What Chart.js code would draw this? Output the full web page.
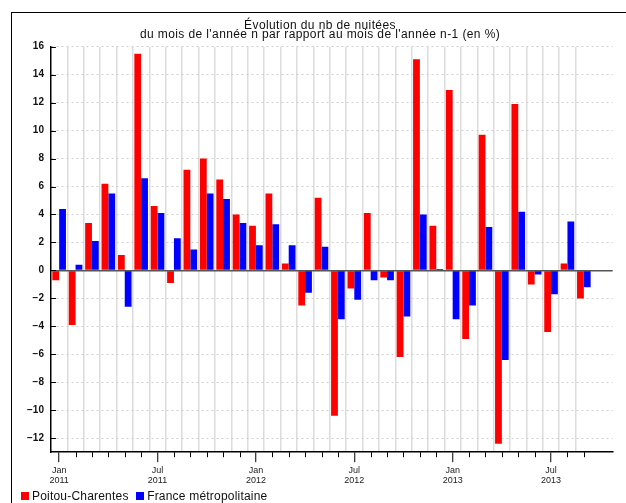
<!DOCTYPE html>
<html lang="fr">
<head>
<meta charset="utf-8">
<title>Évolution du nb de nuitées</title>
<script src="https://cdn.jsdelivr.net/npm/chart.js@4.4.1/dist/chart.umd.min.js"></script>
<style>
  html, body { margin: 0; padding: 0; background: #fff; overflow: hidden; }
  body { width: 626px; height: 503px; position: relative; font-family: "Liberation Sans", Arial, sans-serif; }
  #frame { position: absolute; left: 11px; top: 12px; width: 700px; height: 600px; border: 1.5px solid #000; box-sizing: border-box; }
  #chart { position: absolute; left: 0; top: 0; }
  .title { position: absolute; left: 0; width: 640px; text-align: center; font-size: 12px; color: #111; letter-spacing: 0.4px; white-space: nowrap; line-height: 12px; }
  .legend { position: absolute; top: 489px; left: 21px; font-size: 12px; color: #111; letter-spacing: 0.2px; white-space: nowrap; line-height: 14px; }
  .legend span.box { display: inline-block; width: 8px; height: 8px; margin-right: 3px; vertical-align: 0px; }
  .legend span.item { margin-right: 4px; }
</style>
</head>
<body>
<div id="frame"></div>
<canvas id="chart" width="626" height="503"></canvas>
<div class="title" style="top:19px">Évolution du nb de nuitées</div>
<div class="title" style="top:28px">du mois de l'année n par rapport au mois de l'année n-1 (en %)</div>
<div class="legend">
  <span class="item"><span class="box" style="background:#ff0000"></span>Poitou-Charentes</span>
  <span class="item"><span class="box" style="background:#0000ff"></span>France métropolitaine</span>
</div>
<script>
// Mois (janv. 2011 -> sept. 2013)
const months = [
    'Jan 2011', 'Feb 2011', 'Mar 2011', 'Apr 2011', 'May 2011', 'Jun 2011',
    'Jul 2011', 'Aug 2011', 'Sep 2011', 'Oct 2011', 'Nov 2011', 'Dec 2011',
    'Jan 2012', 'Feb 2012', 'Mar 2012', 'Apr 2012', 'May 2012', 'Jun 2012',
    'Jul 2012', 'Aug 2012', 'Sep 2012', 'Oct 2012', 'Nov 2012', 'Dec 2012',
    'Jan 2013', 'Feb 2013', 'Mar 2013', 'Apr 2013', 'May 2013', 'Jun 2013',
    'Jul 2013', 'Aug 2013', 'Sep 2013'
];
const labelledMonths = ['Jan', 'Jul'];

// Evolution en % par rapport au même mois de l'année précédente
const poitouCharentes = [
    -0.7, -3.9, 3.4, 6.2, 1.1, 15.5, 4.6, -0.9, 7.2, 8.0, 6.5, 4.0,
    3.2, 5.5, 0.5, -2.5, 5.2, -10.4, -1.3, 4.1, -0.5, -6.2, 15.1, 3.2,
    12.9, -4.9, 9.7, -12.4, 11.9, -1.0, -4.4, 0.5, -2.0
];
const franceMetro = [
    4.4, 0.4, 2.1, 5.5, -2.6, 6.6, 4.1, 2.3, 1.5, 5.5, 5.1, 3.4,
    1.8, 3.3, 1.8, -1.6, 1.7, -3.5, -2.1, -0.7, -0.7, -3.3, 4.0, 0.1,
    -3.5, -2.5, 3.1, -6.4, 4.2, -0.3, -1.7, 3.5, -1.2
];
const yTicks = [-12, -10, -8, -6, -4, -2, 0, 2, 4, 6, 8, 10, 12, 14, 16];

const isMajor = (v) => {
    if (!Number.isInteger(v) || !months[v]) return false;
    return labelledMonths.includes(months[v].split(' ')[0]);
};

// petites graduations (mois) + graduations intérieures de l'axe Y
const tickMarks = {
    id: 'tickMarks',
    afterDraw(chart) {
        const { ctx, chartArea, scales: { x, y } } = chart;
        ctx.save();
        ctx.strokeStyle = '#000';
        ctx.lineWidth = 1;
        ctx.beginPath();
        months.forEach((m, i) => {
            if (isMajor(i)) return;
            const px = Math.round(x.getPixelForValue(i)) + 0.5;
            ctx.moveTo(px, chartArea.bottom);
            ctx.lineTo(px, chartArea.bottom + 5);
        });
        yTicks.forEach(v => {
            const py = Math.round(y.getPixelForValue(v)) + 0.5;
            ctx.moveTo(chartArea.left, py);
            ctx.lineTo(chartArea.left + 5, py);
        });
        ctx.stroke();
        ctx.restore();
    }
};

const chart = new Chart(document.getElementById('chart'), {
    type: 'bar',
    data: {
        datasets: [
            {
                label: 'Poitou-Charentes',
                data: poitouCharentes.map((v, i) => ({ x: i, y: v })),
                backgroundColor: '#ff0000',
                borderWidth: 0
            },
            {
                label: 'France métropolitaine',
                data: franceMetro.map((v, i) => ({ x: i, y: v })),
                backgroundColor: '#0000ff',
                borderWidth: 0
            }
        ]
    },
    options: {
        responsive: false,
        animation: false,
        devicePixelRatio: 1,
        // les ticks tous les demi-mois divisent la largeur de référence par 2
        categoryPercentage: 1.66,
        barPercentage: 1,
        layout: { padding: { left: 20, right: 13.3, top: 46.7, bottom: 15 } },
        plugins: {
            legend: { display: false },
            tooltip: { enabled: false }
        },
        scales: {
            x: {
                type: 'linear',
                min: -0.5,
                max: 33.76,
                offset: false,
                afterBuildTicks: (scale) => {
                    const ticks = [];
                    months.forEach((m, i) => {
                        ticks.push({ value: i });
                        if (i < months.length - 1) ticks.push({ value: i + 0.5 });
                    });
                    scale.ticks = ticks;
                },
                grid: {
                    offset: false,
                    color: (ctx) => ctx.tick && !Number.isInteger(ctx.tick.value) ? '#dcdcdc' : 'rgba(0,0,0,0)',
                    lineWidth: 1.5,
                    tickColor: (ctx) => ctx.tick && isMajor(ctx.tick.value) ? '#000' : 'rgba(0,0,0,0)',
                    tickLength: 10,
                    tickWidth: 1
                },
                border: { color: '#000', width: 1.5 },
                ticks: {
                    autoSkip: false,
                    maxRotation: 0,
                    minRotation: 0,
                    padding: 3,
                    color: '#222',
                    font: { family: 'Liberation Sans, Arial, sans-serif', size: 9, lineHeight: 1.1 },
                    callback: (value) => {
                        if (!isMajor(value)) return '';
                        return months[value].split(' ');
                    }
                }
            },
            y: {
                min: -13,
                max: 16,
                afterBuildTicks: (scale) => {
                    scale.ticks = yTicks.map(v => ({ value: v }));
                },
                grid: {
                    drawTicks: false,
                    color: (ctx) => ctx.tick && ctx.tick.value === 0 ? '#555' : '#cfcfcf',
                    lineWidth: (ctx) => ctx.tick && ctx.tick.value === 0 ? 1.5 : 1
                },
                border: {
                    color: '#000',
                    width: 1.5,
                    dash: (ctx) => ctx.tick && ctx.tick.value !== 0 ? [2, 3] : []
                },
                ticks: {
                    padding: 7,
                    color: '#111',
                    font: { family: 'Liberation Sans, Arial, sans-serif', size: 10, weight: 'bold' },
                    callback: (value) => String(value).replace('-', '\u2212')
                }
            }
        }
    },
    plugins: [tickMarks]
});
</script>
</body>
</html>
